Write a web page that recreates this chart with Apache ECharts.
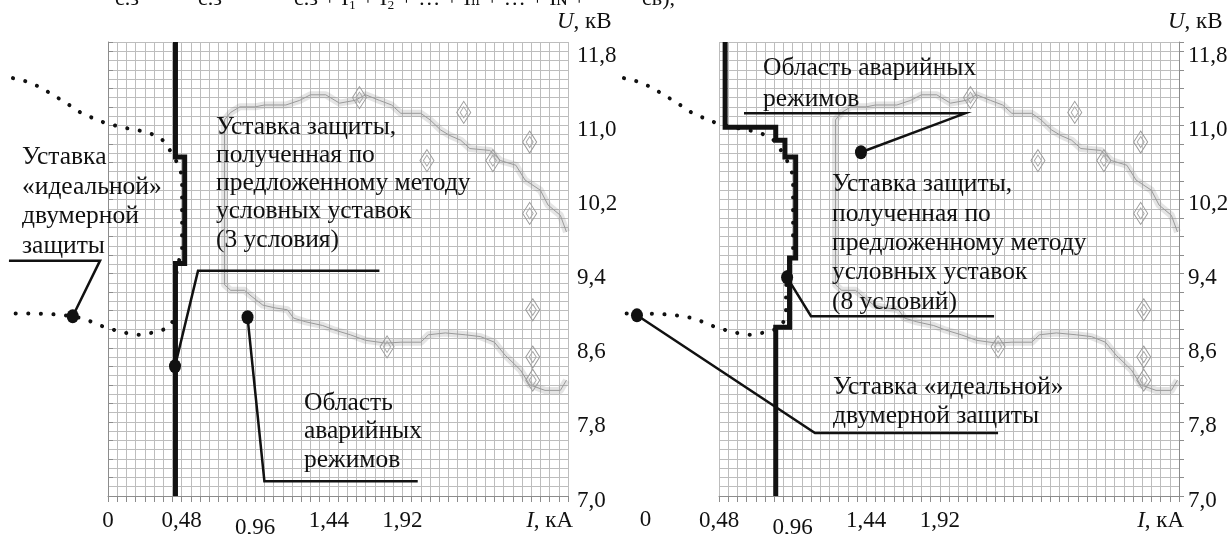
<!DOCTYPE html>
<html><head><meta charset="utf-8">
<script src="https://cdn.jsdelivr.net/npm/echarts@6/dist/echarts.min.js"></script>
<style>html,body{margin:0;padding:0;background:#fff}#c{width:1230px;height:534px}</style>
</head><body><div id="c"></div>
<script>
// ---------- data ----------
// axes
const U_MIN = 7.0, U_MAX = 11.9;
const U_LABEL_STEP = 0.8;
const I_RANGE_LEFT = [0, 3.0];
const I_RANGE_RIGHT = [0.48, 3.48];          // right panel: "0,48" sits at the grid edge
const I_TICK_VALUES = [0, 0.48, 0.96, 1.44, 1.92];
const I_TICK_TEXT = ['0', '0,48', '0,96', '1,44', '1,92'];
const I_NAME_AT_LEFT = 2.88, I_NAME_AT_RIGHT = 3.36;
const I_OUTSIDE = 0.7;                        // curves continue this far left of the grids
const RIGHT_SHIFT = 0.48;                     // same physical curves, right panel axis offset

// emergency-modes region boundary (left panel coordinates)
const regionBoundary = [[2.99,9.85],[2.95,10.03],[2.87,10.14],[2.82,10.30],[2.72,10.41],[2.66,10.57],
  [2.56,10.62],[2.49,10.73],[2.36,10.75],[2.30,10.84],[2.23,10.89],[2.17,10.95],[2.10,11.06],[2.04,11.13],
  [1.91,11.13],[1.85,11.22],[1.77,11.27],[1.68,11.33],[1.61,11.27],[1.51,11.24],[1.42,11.33],[1.32,11.33],
  [1.25,11.27],[1.16,11.22],[1.02,11.22],[0.96,11.20],[0.86,11.20],[0.80,11.14],[0.76,11.06],[0.76,9.28],
  [0.80,9.22],[0.89,9.22],[0.94,9.15],[1.01,9.06],[1.09,9.03],[1.17,9.01],[1.21,8.92],[1.29,8.88],
  [1.40,8.84],[1.48,8.79],[1.58,8.74],[1.68,8.68],[1.81,8.65],[1.91,8.66],[2.04,8.66],[2.09,8.74],
  [2.20,8.76],[2.33,8.74],[2.43,8.72],[2.52,8.66],[2.59,8.52],[2.69,8.36],[2.75,8.20],[2.85,8.14],
  [2.95,8.14],[2.99,8.25]];
const regionIslands = [[2.32,11.14],[2.08,10.62],[2.51,10.62],[2.75,10.82],[2.75,10.05],[1.82,8.61],
  [2.77,9.01],[2.77,8.50],[2.77,8.25],[1.64,11.30]];

// "ideal" two-dimensional protection setting (left panel coordinates)
const idealSetting = [[-0.62,11.51],[-0.52,11.47],[-0.44,11.41],[-0.36,11.33],[-0.27,11.24],[-0.18,11.14],
  [-0.10,11.08],[-0.01,11.02],[0.12,10.97],[0.25,10.93],[0.34,10.87],[0.385,10.79],[0.42,10.68],[0.47,10.55],
  [0.483,10.41],[0.483,9.65],[0.45,9.47],[0.437,9.25],[0.437,8.93],[0.40,8.82],[0.32,8.77],[0.20,8.74],
  [0.08,8.77],[-0.05,8.84],[-0.15,8.91],[-0.23,8.94],[-0.35,8.96],[-0.48,8.97],[-0.63,8.97]];

// protection settings by the proposed method
const setting3 = [[0.44,11.9],[0.44,10.66],[0.50,10.66],[0.50,9.51],[0.44,9.51],[0.44,7.0]];
const setting8 = [[0.52,11.9],[0.52,10.98],[0.85,10.98],[0.85,10.84],[0.91,10.84],[0.91,10.66],
  [0.98,10.66],[0.98,9.57],[0.94,9.57],[0.94,8.82],[0.85,8.82],[0.85,7.0]];

// callout dots and leader lines
const dotsLeft = [[-0.23,8.94],[0.437,8.40],[0.91,8.93]];
const dotsRight = [[-0.055,8.95],[0.924,9.36],[1.406,10.71]];
const leadersLeft = [
  [[-0.646,9.54],[-0.052,9.54],[-0.23,8.94]],
  [[1.77,9.43],[0.587,9.43],[0.437,8.40]],
  [[2.02,7.16],[1.02,7.16],[0.91,8.93]]
];
const leadersRight = [
  [[0.643,11.13],[2.085,11.13],[1.406,10.71]],
  [[0.924,9.36],[1.08,8.94],[2.274,8.94]],
  [[-0.055,8.95],[1.106,7.68],[2.30,7.68]]
];

// ---------- chart ----------
const FONT = "'Liberation Serif', 'DejaVu Serif', serif";
const INK = '#111';
const GRIDC = '#bdbdbd';
const AXC = '#8c8c8c';
const AX_FS = 23, NOTE_FS = 25.5;
const near = (a, b) => Math.abs(a - b) < 1e-6;

const PANEL_W = 460, PANEL_H = 454, PANEL_TOP = 42;
const PANEL_LEFT = [108, 719];
const PX_PER_I = PANEL_W / (I_RANGE_LEFT[1] - I_RANGE_LEFT[0]);

function xFormatter(nameAt) {
  return function (v) {
    for (let k = 0; k < I_TICK_VALUES.length; k++) {
      if (near(v, I_TICK_VALUES[k])) return k === 2 ? '{low|' + I_TICK_TEXT[k] + '}' : I_TICK_TEXT[k];
    }
    if (near(v, nameAt)) return '{it|I}, кА';
    return '';
  };
}
function yFormatter(v) {
  const k = (v - U_MIN) / U_LABEL_STEP;
  if (Math.abs(k - Math.round(k)) < 1e-6 && v < U_MAX - 0.05) return '{v|' + v.toFixed(1).replace('.', ',') + '}';
  return '';
}

function xAxis(gridIndex, range, nameAt) {
  return {
    type: 'value', gridIndex, min: range[0], max: range[1], interval: 0.06, position: 'bottom',
    axisLine: { show: true, lineStyle: { color: AXC, width: 1 } },
    axisTick: { show: true, length: 6, lineStyle: { color: AXC } },
    splitLine: { show: true, lineStyle: { color: GRIDC, width: 1 } },
    axisLabel: {
      show: true, interval: 0, margin: 13, formatter: xFormatter(nameAt),
      fontFamily: FONT, fontSize: AX_FS, color: INK,
      rich: {
        it: { fontFamily: FONT, fontSize: AX_FS, fontStyle: 'italic', color: INK },
        low: { fontFamily: FONT, fontSize: AX_FS, color: INK, padding: [7, 0, 0, 0] }
      }
    }
  };
}
function yAxis(gridIndex) {
  return {
    type: 'value', gridIndex, min: U_MIN, max: U_MAX, interval: 0.2, position: 'right',
    axisLine: { show: true, lineStyle: { color: AXC, width: 1 } },
    axisTick: { show: true, length: 5, lineStyle: { color: AXC } },
    splitLine: { show: true, lineStyle: { color: GRIDC, width: 1 } },
    minorTick: { show: false, splitNumber: 2 },
    minorSplitLine: { show: true, lineStyle: { color: GRIDC, width: 1 } },
    axisLabel: { show: true, interval: 0, margin: 9, formatter: yFormatter, fontFamily: FONT, fontSize: AX_FS,
      color: INK, rich: { v: { fontFamily: FONT, fontSize: AX_FS, color: INK, padding: [9, 0, 0, 0] } } }
  };
}
// hidden helper axes: same scale as a panel, but reaching further left (for curves outside the grid)
function auxX(gridIndex, range) {
  return { type: 'value', gridIndex, show: false, min: range[0] - I_OUTSIDE, max: range[1],
    axisLine: { show: false }, axisTick: { show: false }, axisLabel: { show: false }, splitLine: { show: false } };
}
function auxY(gridIndex) {
  return { type: 'value', gridIndex, show: false, min: U_MIN, max: U_MAX,
    axisLine: { show: false }, axisTick: { show: false }, axisLabel: { show: false }, splitLine: { show: false } };
}

function line(data, g, style, z) {
  return { type: 'line', xAxisIndex: g, yAxisIndex: g, data, symbol: 'none', showSymbol: false,
    clip: false, silent: true, animation: false, z: z || 3, lineStyle: style };
}
function panelSeries(g, aux, shift, setting, dots, leaders) {
  const sh = arr => arr.map(p => [p[0] + shift, p[1]]);
  const s = [];
  s.push(line(sh(regionBoundary), g, { color: 'rgba(130,130,130,0.22)', width: 7, join: 'round' }, 2));
  s.push(line(sh(regionBoundary), g, { color: '#9a9a9a', width: 1 }, 2));
  s.push({ type: 'scatter', xAxisIndex: g, yAxisIndex: g, data: sh(regionIslands), symbol: 'diamond',
    symbolSize: [14, 22], silent: true, animation: false, z: 2,
    itemStyle: { color: 'rgba(0,0,0,0)', borderColor: '#9a9a9a', borderWidth: 1, opacity: 1 } });
  s.push({ type: 'scatter', xAxisIndex: g, yAxisIndex: g, data: sh(regionIslands), symbol: 'diamond',
    symbolSize: [7, 11], silent: true, animation: false, z: 2,
    itemStyle: { color: 'rgba(0,0,0,0)', borderColor: '#a8a8a8', borderWidth: 1, opacity: 1 } });
  s.push(line(setting, g, { color: INK, width: 5, join: 'miter', cap: 'butt' }, 4));
  s.push(line(sh(idealSetting), aux, { color: INK, width: 4, type: [0.1, 12.5], cap: 'round' }, 5));
  leaders.forEach(l => s.push(line(l, aux, { color: INK, width: 2.5, join: 'miter' }, 6)));
  s.push({ type: 'scatter', xAxisIndex: aux, yAxisIndex: aux, data: dots, symbol: 'circle', symbolSize: [12, 14],
    clip: false, silent: true, animation: false, z: 7, itemStyle: { color: INK, opacity: 1 } });
  return s;
}

const series = [].concat(
  panelSeries(0, 2, 0, setting3, dotsLeft, leadersLeft),
  panelSeries(1, 3, RIGHT_SHIFT, setting8, dotsRight, leadersRight)
);
// "0" tick label of the right panel lies left of its grid
series.push({ type: 'scatter', xAxisIndex: 3, yAxisIndex: 3, data: [[I_TICK_VALUES[0], U_MIN]], symbolSize: 1,
  clip: false, silent: true, animation: false, itemStyle: { color: 'rgba(0,0,0,0)', opacity: 1 },
  label: { show: true, position: 'bottom', distance: 12, formatter: I_TICK_TEXT[0], fontFamily: FONT,
    fontSize: AX_FS, color: INK, opacity: 1 } });

function txt(x, y, lh, text, size, rich) {
  const st = { text, fontFamily: FONT, fontSize: size || NOTE_FS, fill: INK, lineHeight: lh, verticalAlign: 'top', align: 'left' };
  if (rich) st.rich = rich;
  return { type: 'text', x, y, silent: true, z: 100, style: st };
}
const italic = { it: { fontFamily: FONT, fontSize: AX_FS, fontStyle: 'italic', fill: INK } };

const grids = [];
PANEL_LEFT.forEach(l => grids.push({ left: l, top: PANEL_TOP, width: PANEL_W, height: PANEL_H,
  outerBoundsMode: 'none', containLabel: false }));
PANEL_LEFT.forEach(l => grids.push({ left: l - I_OUTSIDE * PX_PER_I, top: PANEL_TOP,
  width: PANEL_W + I_OUTSIDE * PX_PER_I, height: PANEL_H, outerBoundsMode: 'none', containLabel: false }));

const option = {
  backgroundColor: '#fff',
  animation: false,
  grid: grids,
  xAxis: [xAxis(0, I_RANGE_LEFT, I_NAME_AT_LEFT), xAxis(1, I_RANGE_RIGHT, I_NAME_AT_RIGHT),
          auxX(2, I_RANGE_LEFT), auxX(3, I_RANGE_RIGHT)],
  yAxis: [yAxis(0), yAxis(1), auxY(2), auxY(3)],
  series,
  graphic: { elements: [
    txt(115, -13, 24, 'с.з', 22),
    txt(198, -13, 24, 'с.з', 22),
    txt(294, -13, 24, 'с.з + I₁ + I₂ + … + Iₙ + … + Iɴ +', 22),
    txt(642, -13, 24, 'св),', 22),
    txt(557, 9, 26, '{it|U}, кВ', AX_FS, italic),
    txt(1168, 9, 26, '{it|U}, кВ', AX_FS, italic),
    txt(22, 143, 29.5, 'Уставка\n«идеальной»\nдвумерной\nзащиты'),
    txt(216, 113, 28.2, 'Уставка защиты,\nполученная по\nпредложенному методу\nусловных уставок\n(3 условия)'),
    txt(304, 389, 28.5, 'Область\nаварийных\nрежимов'),
    txt(763, 53, 31, 'Область аварийных\nрежимов'),
    txt(832, 170, 29.3, 'Уставка защиты,\nполученная по\nпредложенному методу\nусловных уставок\n(8 условий)'),
    txt(833, 373, 29, 'Уставка «идеальной»\nдвумерной защиты')
  ] }
};

const chart = echarts.init(document.getElementById('c'), null, { renderer: 'canvas', width: 1230, height: 534 });
chart.setOption(option);
</script></body></html>
